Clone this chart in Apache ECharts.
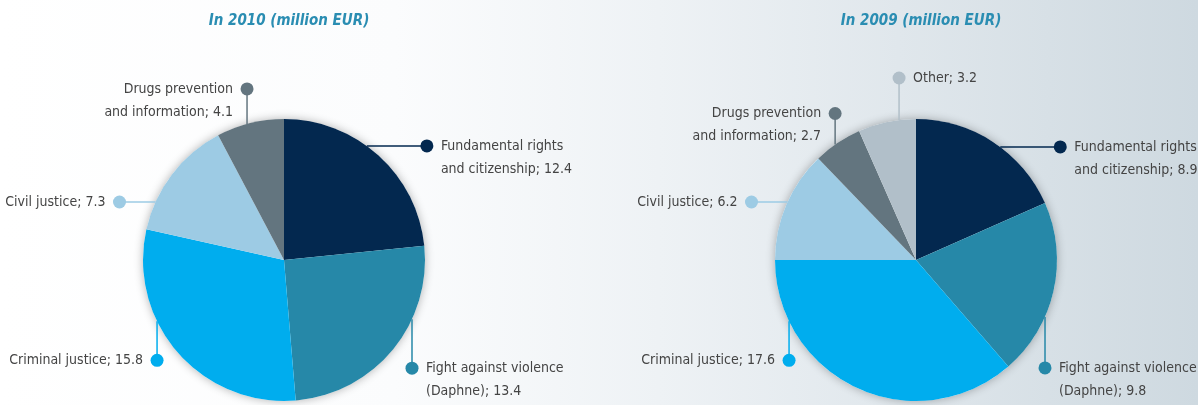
<!DOCTYPE html>
<html>
<head>
    <meta charset="utf-8">
    <title>ECharts</title>
    <script src="https://fastly.jsdelivr.net/npm/echarts@6/dist/echarts.min.js"></script>
</head>
<body style="margin:0">
    <div id="main" style="width: 1198px;height:405px;"></div>
    <script type="text/javascript">
        // data
        var categories2010 = ['Fundamental rights\nand citizenship', 'Fight against violence\n(Daphne)', 'Criminal justice', 'Civil justice', 'Drugs prevention\nand information'];
        var values2010 = [12.4, 13.4, 15.8, 7.3, 4.1];
        var categories2009 = ['Fundamental rights\nand citizenship', 'Fight against violence\n(Daphne)', 'Criminal justice', 'Civil justice', 'Drugs prevention\nand information', 'Other'];
        var values2009 = [8.9, 9.8, 17.6, 6.2, 2.7, 3.2];
        var titles = ['In 2010 (million EUR)', 'In 2009 (million EUR)'];

        var colors = ['#03284f', '#2688a8', '#00adee', '#9dcbe4', '#63757f', '#b1bfc9'];
        var font = "'DejaVu Sans Condensed', 'Liberation Sans Narrow', sans-serif";

        // leader lines: [angle on rim (deg, clockwise from top), direction, length, text side]
        var leaders2010 = [[36, 'h', 60, 'r'], [114.8, 'v', 49, 'r'], [244.2, 'v', 39, 'l'], [294.3, 'h', -36, 'l'], [344.8, 'v', -35, 'l']];
        var leaders2009 = [[36.7, 'h', 60, 'r'], [113.8, 'v', 51, 'r'], [244.2, 'v', 39, 'l'], [294.3, 'h', -36, 'l'], [325, 'v', -31, 'l'], [353.1, 'v', -42, 'r']];

        var R = 141;
        var centers = [[284, 260], [916, 260]];

        function leaderPoints(c, spec) {
            var a = spec[0] * Math.PI / 180;
            var s = [c[0] + R * Math.sin(a), c[1] - R * Math.cos(a)];
            var e = spec[1] === 'h' ? [s[0] + spec[2], s[1]] : [s[0], s[1] + spec[2]];
            return [s, e];
        }

        function makeLayout(c, leaders) {
            return function (params) {
                var sp = leaders[params.dataIndex];
                var p = leaderPoints(c, sp);
                var right = sp[3] === 'r';
                return {
                    x: right ? p[1][0] + 14 : p[1][0] - 14,
                    y: p[1][1] - 11.5,
                    align: right ? 'left' : 'right',
                    verticalAlign: 'top',
                    labelLinePoints: [p[0], p[1], p[1]]
                };
            };
        }

        function pieData(cats, vals) {
            return cats.map(function (n, i) {
                return { name: n, value: vals[i], itemStyle: { color: colors[i] }, labelLine: { lineStyle: { color: colors[i] } } };
            });
        }

        function shadowSeries(c) {
            return {
                type: 'pie', center: c, radius: R, silent: true, z: 1,
                label: { show: false }, labelLine: { show: false },
                itemStyle: { color: '#ffffff', shadowBlur: 10, shadowColor: 'rgba(0,0,0,0.3)' },
                data: [1]
            };
        }

        function pieSeries(c, cats, vals, leaders) {
            return {
                type: 'pie', center: c, radius: R, z: 2,
                startAngle: 90, clockwise: true,
                itemStyle: { borderWidth: 0 },
                emphasis: { disabled: true },
                label: {
                    show: true, position: 'outside', overflow: 'none',
                    fontFamily: font, fontSize: 14, lineHeight: 23, color: '#444',
                    formatter: function (p) { return p.name + '; ' + p.value; }
                },
                labelLine: { show: true, lineStyle: { width: 1.5 } },
                labelLayout: makeLayout(c, leaders),
                data: pieData(cats, vals)
            };
        }

        // dots at the end of the leader lines
        var dots = [];
        [[leaders2010, 0], [leaders2009, 1]].forEach(function (g) {
            g[0].forEach(function (sp, i) {
                var p = leaderPoints(centers[g[1]], sp);
                dots.push({ type: 'circle', z: 100, shape: { cx: p[1][0], cy: p[1][1], r: 6.5 }, style: { fill: colors[i] } });
            });
        });

        var myChart = echarts.init(document.getElementById('main'));

        option = {
            backgroundColor: {
                type: 'linear', x: 0, y: 0, x2: 1, y2: 0,
                colorStops: [
                    { offset: 0, color: '#ffffff' },
                    { offset: 0.33, color: '#fbfcfd' },
                    { offset: 0.55, color: '#eef2f5' },
                    { offset: 0.75, color: '#e0e7ec' },
                    { offset: 1, color: '#ced9e0' }
                ]
            },
            animation: false,
            title: titles.map(function (t, i) {
                return {
                    text: t, left: centers[i][0], top: 9, textAlign: 'center',
                    textStyle: { fontFamily: font, fontSize: 15, fontStyle: 'italic', fontWeight: 'bold', color: '#2a8db2' }
                };
            }),
            graphic: dots,
            series: [
                shadowSeries(centers[0]),
                shadowSeries(centers[1]),
                pieSeries(centers[0], categories2010, values2010, leaders2010),
                pieSeries(centers[1], categories2009, values2009, leaders2009)
            ]
        };

        myChart.setOption(option);
    </script>
</body>
</html>
